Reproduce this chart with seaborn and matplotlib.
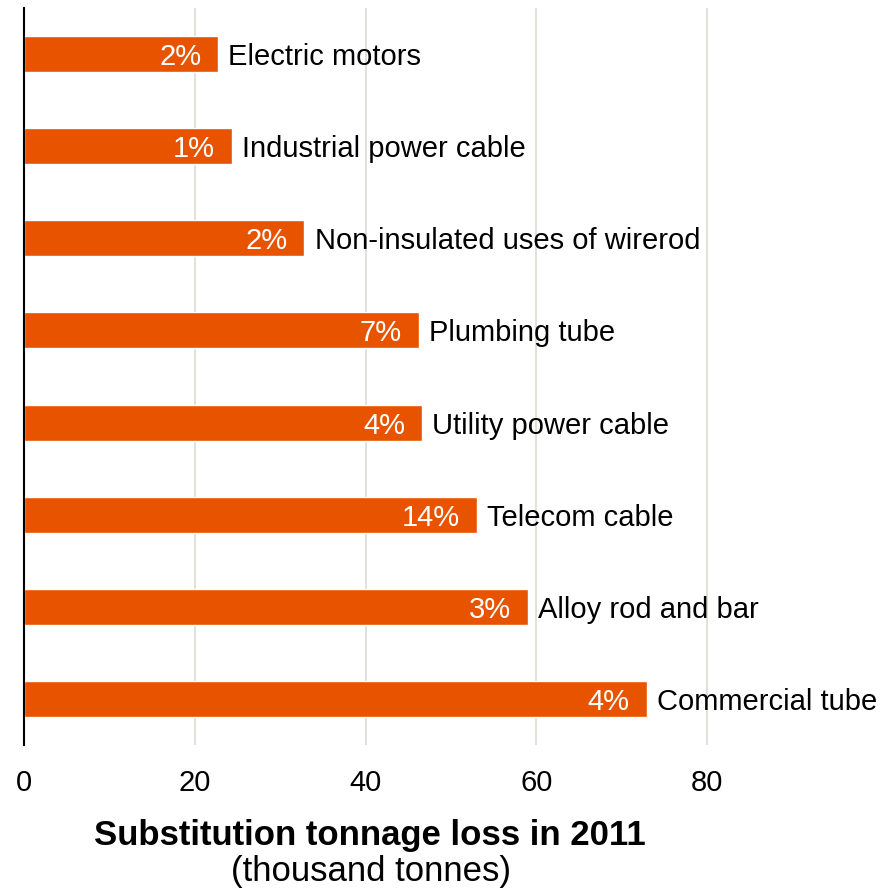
import matplotlib
matplotlib.use("Agg")
import matplotlib.pyplot as plt
import seaborn as sns
import pandas as pd

categories = ["Electric motors", "Industrial power cable", "Non-insulated uses of wirerod",
              "Plumbing tube", "Utility power cable", "Telecom cable",
              "Alloy rod and bar", "Commercial tube"]
values = [22.7, 24.3, 32.8, 46.2, 46.6, 53.0, 59.0, 72.9]
shares = ["2%", "1%", "2%", "7%", "4%", "14%", "3%", "4%"]
xticks = [0, 20, 40, 60, 80]

df = pd.DataFrame({"category": categories, "value": values, "share": shares})

sns.set_theme(style="white")
plt.rcParams["font.family"] = ["Liberation Sans", "DejaVu Sans"]

fig = plt.figure(figsize=(8.95, 8.89), dpi=100)
ax = fig.add_axes([24/895, 1-745/889, 1-24/895, (745-8)/889])

sns.barplot(data=df, x="value", y="category", orient="h", color="#E85300",
            saturation=1, width=0.39, ax=ax, zorder=3)

ax.set_xlim(0, 102)
ax.set_xticks(xticks)
ax.set_xticklabels([str(t) for t in xticks], fontsize=21, color="black")
ax.tick_params(axis="x", length=0, pad=17)
ax.set_yticks([])
ax.set_xlabel("")
ax.set_ylabel("")
for s in ["top", "right", "bottom"]:
    ax.spines[s].set_visible(False)
ax.spines["left"].set_color("black")
ax.spines["left"].set_linewidth(1.5)
ax.spines["left"].set_zorder(5)
for t in xticks[1:]:
    ax.axvline(t, color="#dcdcd2", lw=1.2, zorder=1)

for i, (v, s, c) in enumerate(zip(values, shares, categories)):
    ax.annotate(s, (v, i), xytext=(-12, 0), textcoords="offset points",
                ha="right", va="center_baseline", color="white", fontsize=21, zorder=6)
    ax.annotate(c, (v, i), xytext=(7.5, 0), textcoords="offset points",
                ha="left", va="center_baseline", color="black", fontsize=21, zorder=6)

fig.text(370/895, 1-836/889, "Substitution tonnage loss in 2011", ha="center", va="center",
         fontsize=25, fontweight="bold", color="black")
fig.text(371/895, 1-871/889, "(thousand tonnes)", ha="center", va="center", fontsize=25,
         color="black")

fig.savefig("out.png", dpi=100)
